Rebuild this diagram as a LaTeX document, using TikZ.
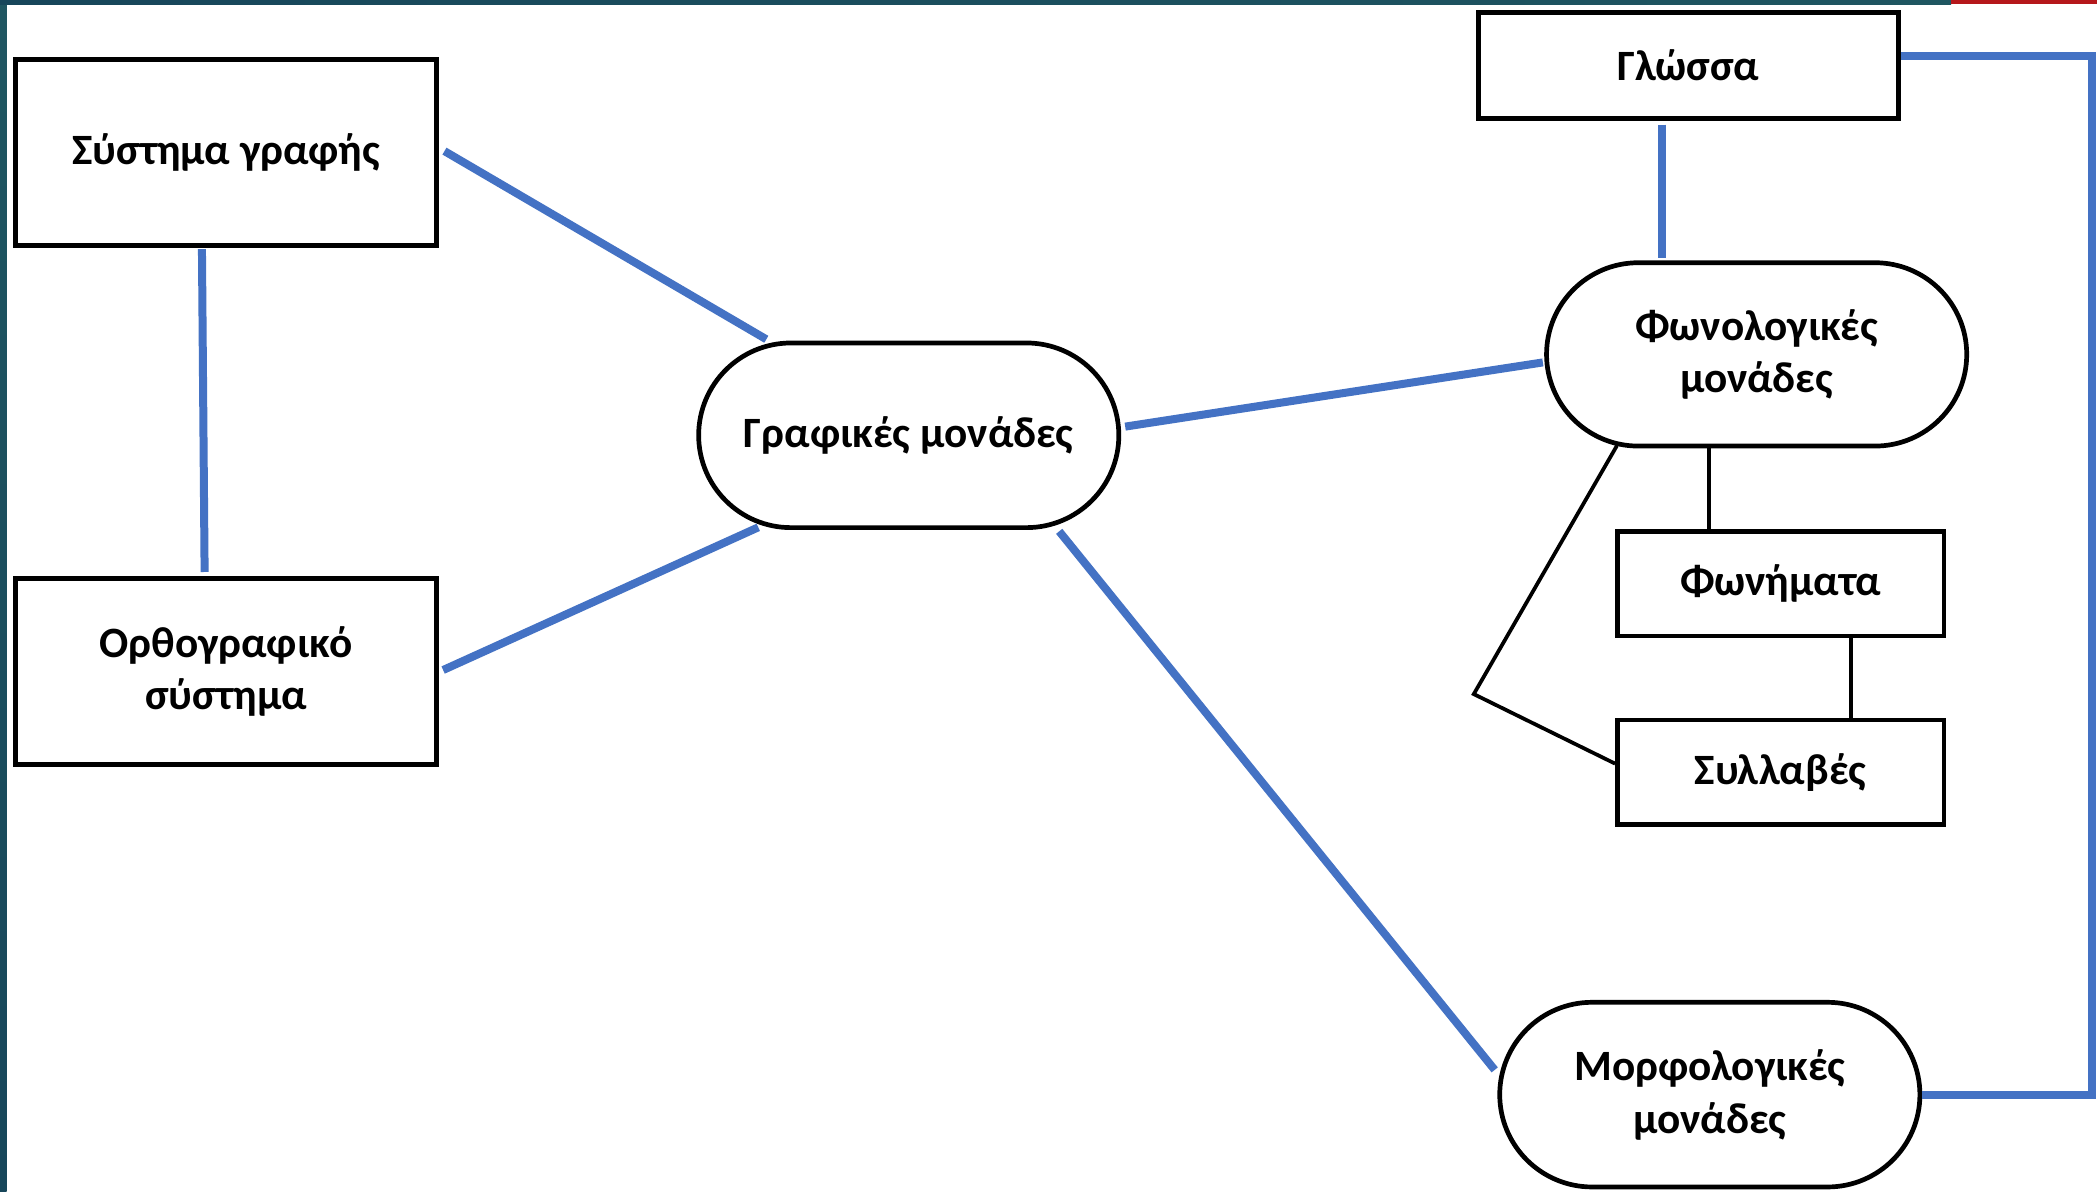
\documentclass[tikz,border=0pt]{standalone}
\usepackage{fontspec}
\setmainfont{Carlito}
\usetikzlibrary{calc,shapes.misc}
\definecolor{linkblue}{HTML}{4472C4}
\definecolor{frametealA}{HTML}{1F5661}
\definecolor{frametealB}{HTML}{17465A}
\definecolor{framered}{HTML}{B5171B}
\begin{document}
\begin{tikzpicture}[x=0.01cm,y=-0.01cm,
  box/.style={draw=black,line width=1pt,rectangle,fill=white,align=center,
    inner sep=0pt,font=\bfseries\fontsize{9.2}{11.2}\selectfont},
  pill/.style={box,rounded rectangle},
  link/.style={draw=linkblue,line width=1.7pt},
  thinlink/.style={draw=black,line width=0.8pt}]
\useasboundingbox (0,0) rectangle (1568,891);
\fill[white] (0,0) rectangle (1568,891);
% frame strips
\shade[top color=frametealA,bottom color=frametealB] (0,0) rectangle (5,891);
\shade[left color=frametealB,right color=frametealA] (0,0) rectangle (1459,3);
\fill[framered] (1459,0) rectangle (1568,3);

% nodes
\node[box,minimum width=3.15cm,minimum height=1.39cm] (s1) at (169,114) {Σύστημα γραφής};
\node[box,minimum width=3.15cm,minimum height=1.39cm] (o) at (169,502) {Ορθογραφικό\\σύστημα};
\node[pill,minimum width=3.14cm,minimum height=1.38cm] (g) at (679.5,325.5) {Γραφικές μονάδες};
\node[box,minimum width=3.14cm,minimum height=0.79cm] (gl) at (1262.5,49) {Γλώσσα};
\node[pill,minimum width=3.14cm,minimum height=1.37cm] (f) at (1313.5,265) {Φωνολογικές\\μονάδες};
\node[box,minimum width=2.44cm,minimum height=0.78cm] (ph) at (1331.5,436.5) {Φωνήματα};
\node[box,minimum width=2.44cm,minimum height=0.78cm] (sy) at (1331.5,577.5) {Συλλαβές};
\node[pill,minimum width=3.14cm,minimum height=1.38cm] (m) at (1278.5,818.5) {Μορφολογικές\\μονάδες};
\coordinate (bend) at (1102,519);

% blue connectors
\draw[link] ($(s1.east)+(4,-1)$) -- ($(g.north)+(-106.5,-1)$);
\draw[link] ($(s1.south)+(-18,1)$) -- ($(o.north)+(-16,-3)$);
\draw[link] ($(o.east)+(3,-1)$) -- ($(g.south)+(-112.5,-2)$);
\draw[link] ($(g.east)+(3,-6.5)$) -- ($(f.west)+(-1,6)$);
\draw[link] ($(g.south)+(112.5,1)$) -- ($(m.west)+(-2,-18.5)$);
\draw[link] ($(gl.south)+(-19.5,3)$) -- ($(f.north)+(-70.5,-2)$);
\draw[link,line join=miter] ($(gl.east)+(0,-7)$) -- ++(143,0) |- (m.east);

% black connectors
\draw[thinlink] ($(f.south)+(-35.5,0)$) -- ($(ph.north)+(-53.5,0)$);
\draw[thinlink] ($(ph.south)+(52.5,0)$) -- ($(sy.north)+(52.5,0)$);
\draw[thinlink,line join=miter] ($(f.south)+(-104.5,-2)$) -- (bend) -- ($(sy.west)+(0,-6.5)$);
\end{tikzpicture}
\end{document}
